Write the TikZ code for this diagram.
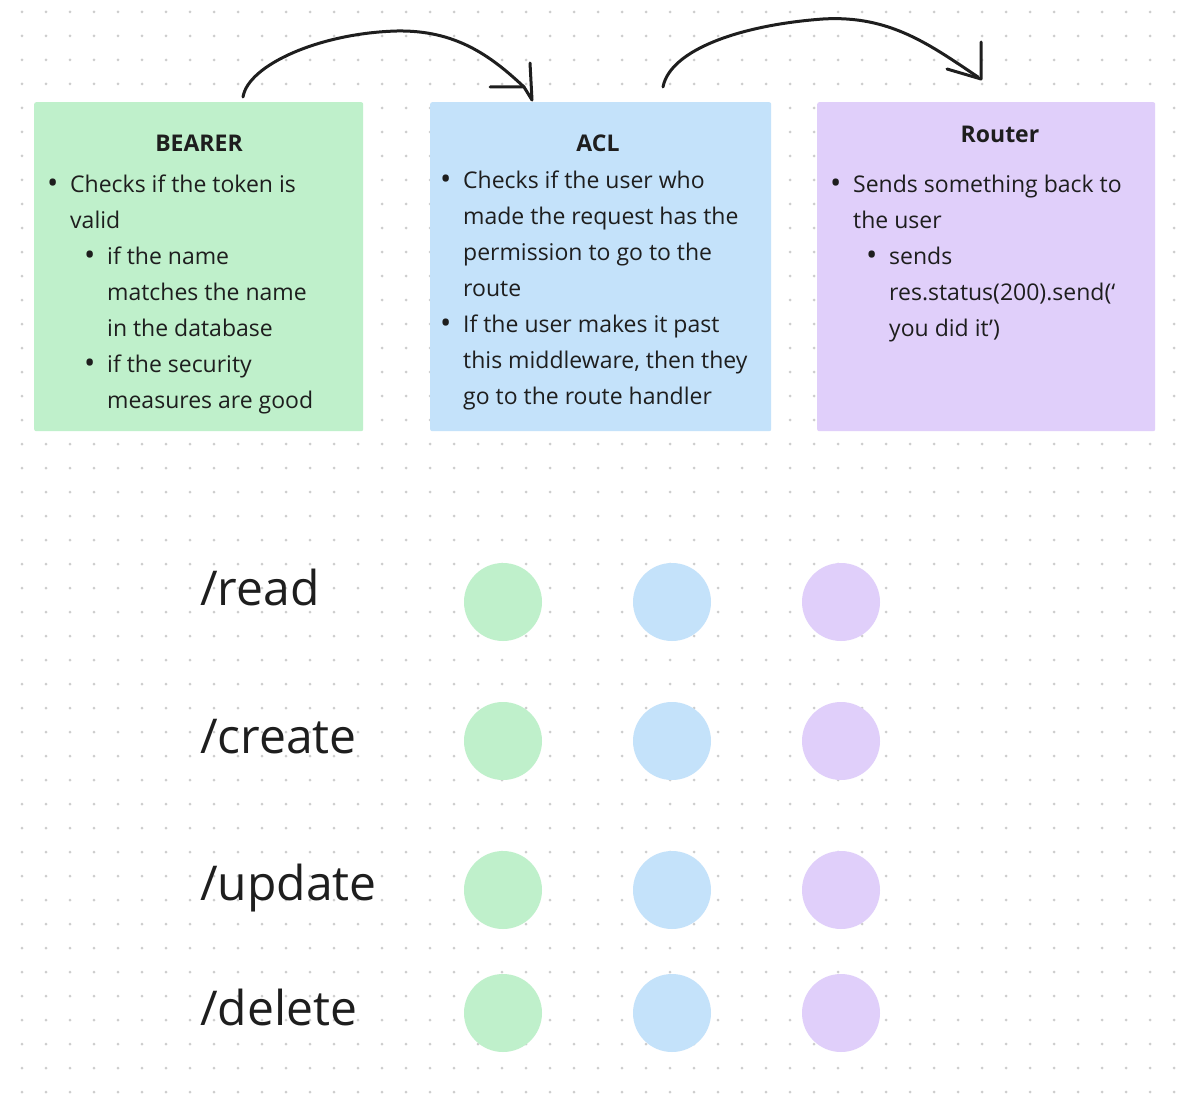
\documentclass[tikz,border=0pt]{standalone}
\usepackage{fontspec}
\setmainfont{Open Sans}
\usetikzlibrary{positioning}

\definecolor{bearergreen}{RGB}{191,240,203}
\definecolor{aclblue}{RGB}{196,226,250}
\definecolor{routerpurple}{RGB}{224,207,250}
\definecolor{ink}{RGB}{30,30,30}
\definecolor{dotgrey}{RGB}{205,205,205}

\tikzset{
  card/.style={draw=none, rounded corners=2pt, inner sep=0pt, anchor=north west, minimum height=329pt},
  cardtitle/.style={font=\fontsize{23}{28}\selectfont\bfseries, text=ink, anchor=base, inner sep=0pt},
  cardtext/.style={font=\fontsize{23}{36}\selectfont, text=ink, align=left, anchor=base west, inner sep=0pt},
  route/.style={font=\fontsize{48}{56}\selectfont, text=ink, anchor=base west, inner sep=0pt},
  blob/.style={circle, minimum size=78pt, inner sep=0pt, draw=none},
  hand/.style={draw=ink, line width=3pt, line cap=round, line join=round},
}
\newcommand{\blt}{\makebox[22pt][l]{\hspace*{-1pt}\raisebox{-1.6pt}{\fontsize{30}{36}\selectfont •}}}

\begin{document}
\begin{tikzpicture}[x=1pt,y=-1pt]
        \useasboundingbox[fill=white] (0,0) rectangle (1188,1094);
        % dotted canvas
        \foreach \i in {0,...,48}
          \foreach \j in {0,...,45}
            \fill[dotgrey] (22+24*\i,12+24*\j) circle (1.5pt);

        % the three cards
        \node[card, fill=bearergreen, minimum width=329pt] (bearer) at (34,102) {};
        \node[card, fill=aclblue, minimum width=341pt] (acl) at (430,102) {};
        \node[card, fill=routerpurple, minimum width=338pt] (router) at (817,102) {};

        \node[cardtitle] (bearer-title) at (199,152) {BEARER};
        \node[cardtitle] (acl-title) at (598,152) {ACL};
        \node[cardtitle] (router-title) at (1000,143) {Router};

        % base of a multi line node is its last line
        \node[cardtext] (bearer-text) at (48,408) {\blt Checks if the token is\\
          \hspace*{22pt}valid\\
          \hspace*{37pt}\blt if the name\\
          \hspace*{59pt}matches the name\\
          \hspace*{59pt}in the database\\
          \hspace*{37pt}\blt if the security\\
          \hspace*{59pt}measures are good};
        \node[cardtext] (acl-text) at (441,404) {\blt Checks if the user who\\
          \hspace*{22pt}made the request has the\\
          \hspace*{22pt}permission to go to the\\
          \hspace*{22pt}route\\
          \blt If the user makes it past\\
          \hspace*{22pt}this middleware, then they\\
          \hspace*{22pt}go to the route handler};
        \node[cardtext] (router-text) at (831,336) {\blt Sends something back to\\
          \hspace*{22pt}the user\\
          \hspace*{36pt}\blt sends\\
          \hspace*{58pt}res.status(200).send(‘\\
          \hspace*{58pt}you did it’)};

        % hand drawn arrows
        \coordinate (bearer-out) at (243,97);
        \coordinate (acl-in) at (524,87);
        \coordinate (acl-out) at (663,87);
        \coordinate (router-in) at (978,77);
        \draw[hand] (bearer-out) .. controls (248,65) and (320,33) .. (397,31)
          .. controls (455,30) and (490,55) .. (acl-in);
        \draw[hand] (490,87) -- (acl-in) -- (532,100) -- (530,63);
        \draw[hand] (acl-out) .. controls (670,50) and (740,25) .. (823,19)
          .. controls (890,15) and (930,45) .. (router-in);
        \draw[hand] (947,69) -- (981,79) -- (981,42);

        % routes
        \foreach \nm/\cy/\by/\txt in {read/602/605/{/read},create/741/753/{/create},
            update/890/900/{/update},delete/1013/1025/{/delete}} {
          \node[route] (\nm) at (200,\by) {\txt};
          \node[blob, fill=bearergreen] (\nm-bearer) at (503,\cy) {};
          \node[blob, fill=aclblue] (\nm-acl) at (672,\cy) {};
          \node[blob, fill=routerpurple] (\nm-router) at (841,\cy) {};
        }
\end{tikzpicture}
\end{document}
